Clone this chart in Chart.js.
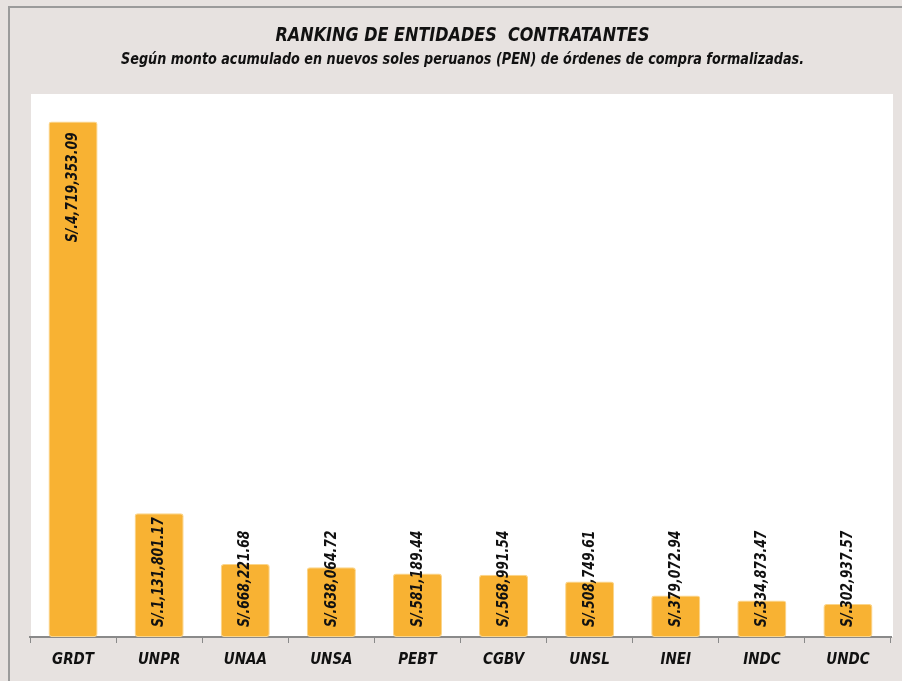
<!DOCTYPE html>
<html>
<head>
<meta charset="utf-8">
<script src="https://cdn.jsdelivr.net/npm/chart.js@4.4.1/dist/chart.umd.min.js"></script>
<style>
  html, body { margin: 0; padding: 0; background: #e7e2e0; }
  #wrap { width: 902px; height: 681px; position: relative; }
  canvas { display: block; }
</style>
</head>
<body>
<div id="wrap"><canvas id="c" width="902" height="681"></canvas></div>
<script>
const categories = ["GRDT", "UNPR", "UNAA", "UNSA", "PEBT", "CGBV", "UNSL", "INEI", "INDC", "UNDC"];
const amounts = [4719353.09, 1131801.17, 668221.68, 638064.72, 581189.44, 568991.54, 508749.61, 379072.94, 334873.47, 302937.57];
const titleText = "RANKING DE ENTIDADES  CONTRATANTES";
const subtitleText = "Según monto acumulado en nuevos soles peruanos (PEN) de órdenes de compra formalizadas.";

const FONT = '"Liberation Sans Narrow", "DejaVu Sans Condensed", "Liberation Sans", sans-serif';
const BG = '#e7e2e0';

function fmt(v) {
  return 'S/.' + v.toLocaleString('en-US', { minimumFractionDigits: 2, maximumFractionDigits: 2 });
}

function condensedText(ctx, txt, x, y, targetWidth) {
  const w = ctx.measureText(txt).width;
  const s = targetWidth / w;
  ctx.save();
  ctx.translate(x, y);
  ctx.scale(s, 1);
  ctx.fillText(txt, 0, 0);
  ctx.restore();
}

const framePlugin = {
  id: 'frame',
  beforeDraw(chart) {
    const ctx = chart.ctx, a = chart.chartArea;
    ctx.save();
    ctx.fillStyle = BG;
    ctx.fillRect(0, 0, chart.width, chart.height);
    ctx.fillStyle = '#9b9b9b';
    ctx.fillRect(8, 6, chart.width - 8, 2);
    ctx.fillRect(8, 6, 2, chart.height - 6);
    ctx.fillStyle = '#ffffff';
    ctx.fillRect(a.left + 1, a.top, a.right - a.left + 1, a.bottom - a.top);
    const cx = (a.left + a.right) / 2 + 2;
    ctx.fillStyle = '#111111';
    ctx.textAlign = 'center';
    ctx.textBaseline = 'middle';
    ctx.font = 'italic bold 19px ' + FONT;
    condensedText(ctx, titleText, cx, 36, 374);
    ctx.font = 'italic bold 15px ' + FONT;
    condensedText(ctx, subtitleText, cx, 60, 683);
    ctx.restore();
  },
  afterDatasetsDraw(chart) {
    const ctx = chart.ctx;
    const meta = chart.getDatasetMeta(0);
    const base = chart.scales.y.getPixelForValue(0);
    ctx.save();
    ctx.font = 'italic bold 16px ' + FONT;
    ctx.fillStyle = '#111111';
    ctx.textAlign = 'right';
    ctx.textBaseline = 'middle';
    const sx = 0.86;
    meta.data.forEach((bar, i) => {
      const txt = fmt(amounts[i]);
      const w = ctx.measureText(txt).width * sx;
      const y = Math.min(bar.y + 11, base - 10 - w);
      ctx.save();
      ctx.translate(bar.x, y);
      ctx.rotate(-Math.PI / 2);
      ctx.scale(sx, 1);
      ctx.fillText(txt, 0, 0);
      ctx.restore();
    });
    ctx.restore();
  }
};

new Chart(document.getElementById('c'), {
  type: 'bar',
  data: {
    labels: categories,
    datasets: [{
      data: amounts,
      backgroundColor: '#f8b233',
      borderColor: '#fbd58a',
      borderWidth: 1,
      borderRadius: 3,
      borderSkipped: false,
      barPercentage: 0.57,
      categoryPercentage: 1.0
    }]
  },
  options: {
    responsive: false,
    animation: false,
    layout: { padding: { left: 30, right: 11, top: 94, bottom: 0 } },
    plugins: { legend: { display: false }, tooltip: { enabled: false }, title: { display: false } },
    scales: {
      y: { display: false, min: 0, max: 4970000 },
      x: {
        afterFit(scale) { scale.height = 44; },
        border: { display: true, color: '#8a8a8a', width: 2 },
        grid: { display: true, drawOnChartArea: false, tickLength: 6, color: '#8a8a8a', lineWidth: 1, offset: true },
        ticks: { color: '#111111', padding: 8, font: { family: FONT, size: 15, style: 'italic', weight: 'bold' } }
      }
    }
  },
  plugins: [framePlugin]
});
</script>
</body>
</html>
